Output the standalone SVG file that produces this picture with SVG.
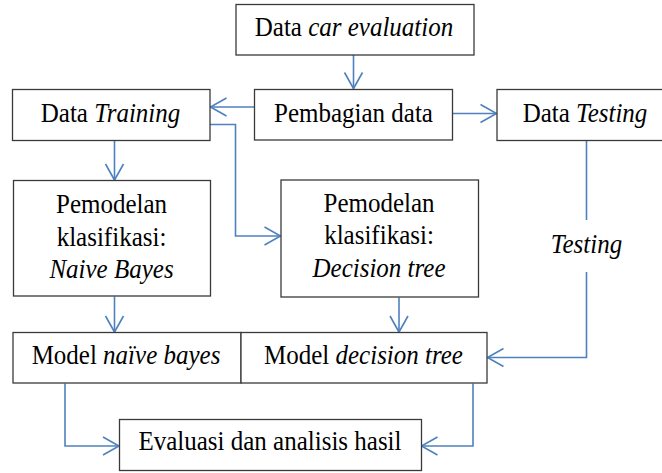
<svg xmlns="http://www.w3.org/2000/svg" width="662" height="473" viewBox="0 0 662 473">
  <style>
    .box { fill: #ffffff; stroke: #3a3a3a; stroke-width: 1.3; }
    .lbl { font-family: "Liberation Serif", "Times New Roman", serif; font-size: 25px; fill: #000000; text-anchor: middle; }
    .it { font-style: italic; }
    .conn { fill: none; stroke: #4f81bd; stroke-width: 1.6; }
  </style>
  <defs>
    <marker id="arrow" markerUnits="userSpaceOnUse" markerWidth="24" markerHeight="24" viewBox="-20 -12 24 24" refX="0" refY="0" orient="auto">
      <path d="M-16,-9 L0,0 L-16,9" fill="none" stroke="#4f81bd" stroke-width="1.6"/>
    </marker>
  </defs>
  <rect width="662" height="473" fill="#ffffff"/>

  <g id="connectors">
    <path class="conn" d="M353.5,55 V88.5" marker-end="url(#arrow)"/>
    <path class="conn" d="M254,107 H210.5" marker-end="url(#arrow)"/>
    <path class="conn" d="M452.5,113.5 H496.5" marker-end="url(#arrow)"/>
    <path class="conn" d="M114.5,140.5 V180" marker-end="url(#arrow)"/>
    <path class="conn" d="M210,124.5 H235.5 V236 H280.5" marker-end="url(#arrow)"/>
    <path class="conn" d="M586.5,140.5 V220"/>
    <path class="conn" d="M586.5,272 V357.5 H487.5" marker-end="url(#arrow)"/>
    <path class="conn" d="M114.5,296.5 V332" marker-end="url(#arrow)"/>
    <path class="conn" d="M399,297.5 V332" marker-end="url(#arrow)"/>
    <path class="conn" d="M65,383.5 V446 H119" marker-end="url(#arrow)"/>
    <path class="conn" d="M473,383.5 V446 H421.5" marker-end="url(#arrow)"/>
  </g>

  <!-- labels are set in a slightly tall face: each is stretched 1.1x vertically about its baseline -->
  <g id="data-car-evaluation">
    <rect class="box" x="236" y="4.5" width="238" height="50.5"/>
    <text class="lbl" transform="translate(354 36) scale(1 1.1)">Data <tspan class="it">car evaluation</tspan></text>
  </g>

  <g id="data-training">
    <rect class="box" x="12.5" y="89.5" width="197.5" height="51"/>
    <text class="lbl" transform="translate(110.5 121.5) scale(1 1.1)">Data <tspan class="it">Training</tspan></text>
  </g>

  <g id="pembagian-data">
    <rect class="box" x="254.5" y="89.5" width="198" height="50.5"/>
    <text class="lbl" transform="translate(353.5 121.5) scale(1 1.1)">Pembagian data</text>
  </g>

  <g id="data-testing">
    <rect class="box" x="497" y="89.5" width="180" height="51"/>
    <text class="lbl" transform="translate(585 121.5) scale(1 1.1)">Data <tspan class="it">Testing</tspan></text>
  </g>

  <g id="pemodelan-naive-bayes">
    <rect class="box" x="13.5" y="180.5" width="197" height="115.5"/>
    <text class="lbl" transform="translate(111.5 212.5) scale(1 1.1)">Pemodelan</text>
    <text class="lbl" transform="translate(111.5 245.5) scale(1 1.1)">klasifikasi:</text>
    <text class="lbl it" transform="translate(111.5 278) scale(1 1.1)">Naive Bayes</text>
  </g>

  <g id="pemodelan-decision-tree">
    <rect class="box" x="281" y="180" width="197.5" height="117"/>
    <text class="lbl" transform="translate(379 211.5) scale(1 1.1)">Pemodelan</text>
    <text class="lbl" transform="translate(379 244) scale(1 1.1)">klasifikasi:</text>
    <text class="lbl it" transform="translate(379 277) scale(1 1.1)">Decision tree</text>
  </g>

  <g id="testing-label">
    <text class="lbl it" transform="translate(586.5 253) scale(1 1.1)">Testing</text>
  </g>

  <g id="model-naive-bayes">
    <rect class="box" x="13" y="332.5" width="228" height="50.5"/>
    <text class="lbl" transform="translate(126 363.5) scale(1 1.1)">Model <tspan class="it">naïve bayes</tspan></text>
  </g>

  <g id="model-decision-tree">
    <rect class="box" x="241" y="332.5" width="246" height="50.5"/>
    <text class="lbl" transform="translate(363.5 363.5) scale(1 1.1)">Model <tspan class="it">decision tree</tspan></text>
  </g>

  <g id="evaluasi">
    <rect class="box" x="119.5" y="419.5" width="302" height="51"/>
    <text class="lbl" transform="translate(270 450) scale(1 1.1)">Evaluasi dan analisis hasil</text>
  </g>
</svg>
